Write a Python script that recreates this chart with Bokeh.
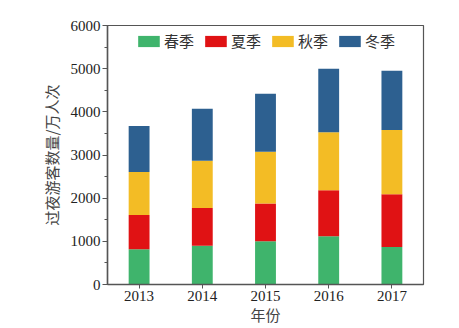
from bokeh.plotting import figure
from bokeh.models import ColumnDataSource, Range1d, Legend, LegendItem, FixedTicker
from bokeh.embed import file_html
from bokeh.resources import INLINE

years = ["2013", "2014", "2015", "2016", "2017"]
spring = [814, 899, 1000, 1116, 868]
summer = [798, 876, 876, 1070, 1225]
autumn = [993, 1093, 1202, 1341, 1488]
winter = [1069, 1202, 1341, 1473, 1372]
seasons = ["spring", "summer", "autumn", "winter"]
season_labels = ["春季", "夏季", "秋季", "冬季"]
colors = ["#3fb46c", "#e01214", "#f3bc25", "#2d6090"]

src = ColumnDataSource(dict(year=years, spring=spring, summer=summer,
                            autumn=autumn, winter=winter))

p = figure(x_range=years, y_range=Range1d(0, 6000), width=459, height=328,
           output_backend="svg", toolbar_location=None,
           min_border_left=107, min_border_right=36, min_border_top=25,
           min_border_bottom=44)
p.x_range.range_padding = 0

rs = p.vbar_stack(seasons, x="year", width=0.33, color=colors, source=src,
                  line_color=None)

p.xgrid.visible = False
p.ygrid.visible = False
p.outline_line_color = "#555555"
p.outline_line_width = 1.2

for ax in (p.xaxis[0], p.yaxis[0]):
    ax.axis_line_color = "#555555"
    ax.axis_line_width = 1.5
    ax.major_tick_line_color = "#555555"
    ax.minor_tick_line_color = "#555555"
    ax.major_label_text_font = "Liberation Serif"
    ax.major_label_text_font_size = "15px"
    ax.major_label_text_color = "#222222"
    ax.axis_label_text_font = "Noto Sans CJK SC"
    ax.axis_label_text_font_size = "15px"
    ax.axis_label_text_font_style = "normal"
    ax.axis_label_text_color = "#444444"

p.yaxis.ticker = FixedTicker(ticks=[0, 1000, 2000, 3000, 4000, 5000, 6000],
                             minor_ticks=[500, 1500, 2500, 3500, 4500, 5500])
p.yaxis.major_tick_out = 5
p.yaxis.major_tick_in = 0
p.yaxis.minor_tick_out = 3
p.yaxis.minor_tick_in = 0
p.yaxis.major_label_standoff = 2
p.yaxis.axis_label = "过夜游客数量/万人次"
p.yaxis.axis_label_standoff = 6

p.xaxis.major_tick_out = 4
p.xaxis.major_tick_in = 0
p.xaxis.major_label_standoff = 2
p.xaxis.axis_label = "年份"
p.xaxis.axis_label_standoff = 0

legend = Legend(items=[LegendItem(label=l, renderers=[r]) for l, r in zip(season_labels, rs)],
                orientation="horizontal", location="top_center",
                label_text_font="Noto Sans CJK SC", label_text_font_size="15px",
                label_text_color="#333333",
                glyph_width=27, glyph_height=14, label_standoff=2, spacing=8,
                padding=2, margin=5, border_line_color=None,
                background_fill_alpha=0)
p.add_layout(legend)

open("out.html", "w").write(file_html(p, INLINE))
